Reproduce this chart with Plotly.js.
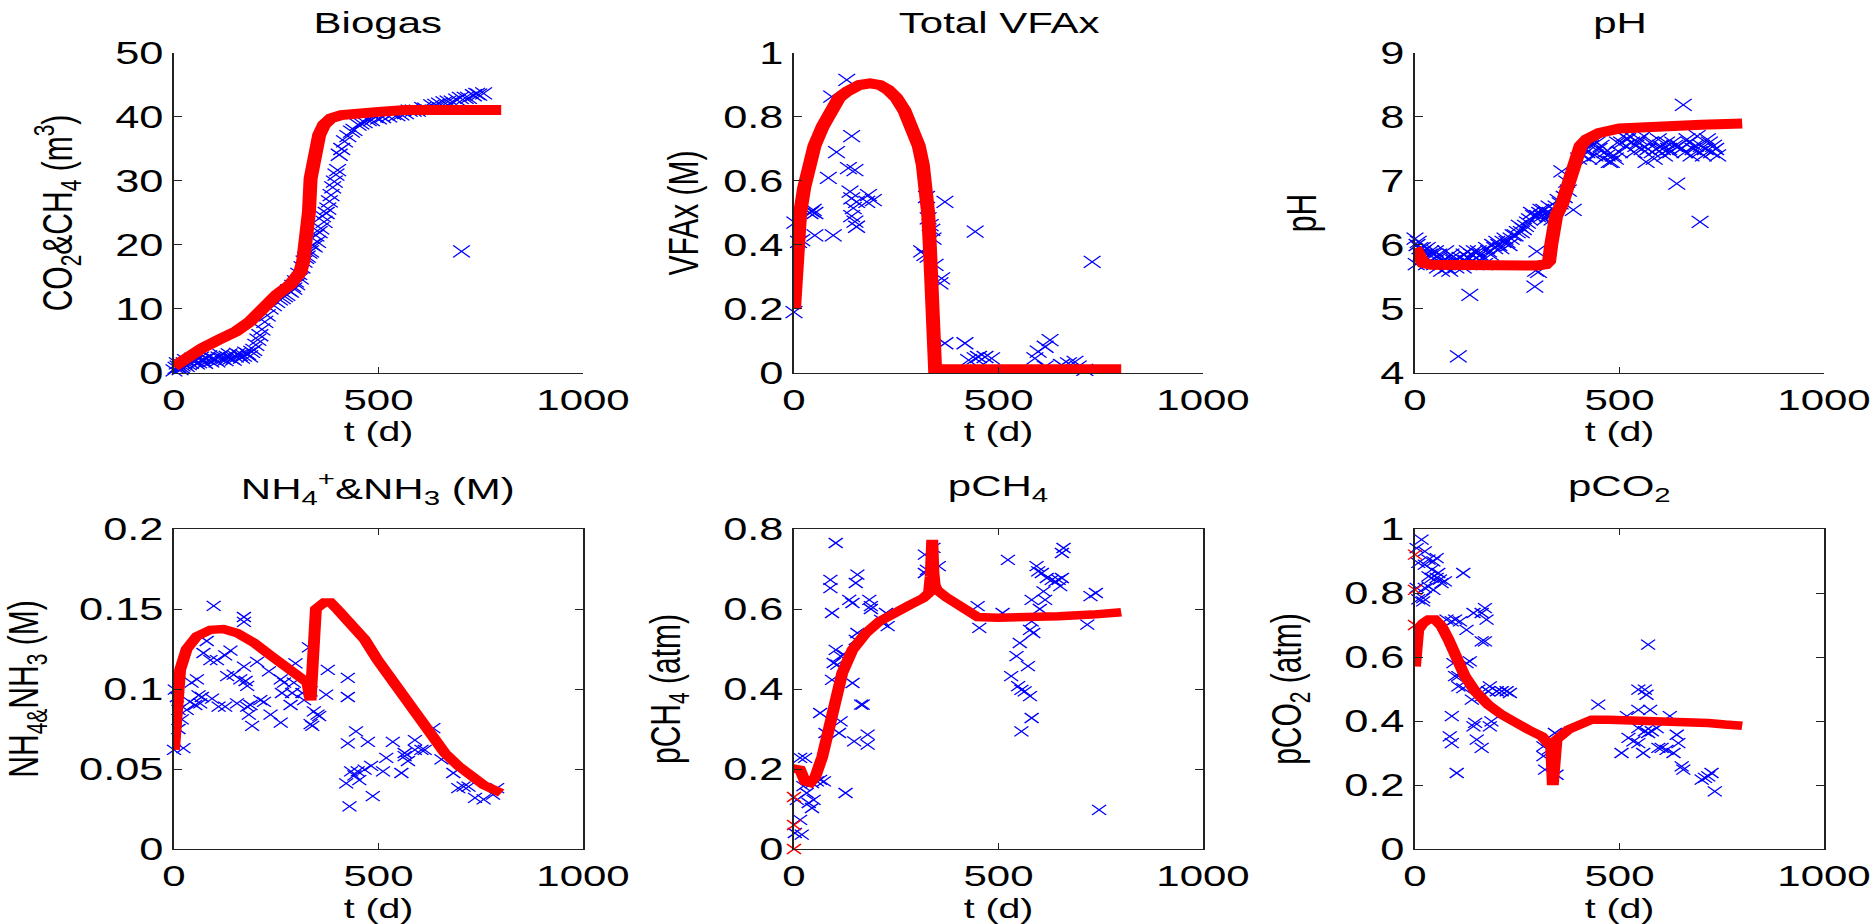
<!DOCTYPE html>
<html>
<head>
<meta charset="utf-8">
<script src="https://cdn.plot.ly/plotly-3.0.1.min.js"></script>
<style>
html,body{margin:0;padding:0;background:#fff;overflow:hidden;}
#wrap{width:1876px;height:924px;overflow:hidden;}
#chart{width:1340px;height:924px;transform:scaleX(1.4);transform-origin:0 0;}
</style>
</head>
<body>
<div id="wrap"><div id="chart"></div></div>
<script>
// ---------- Biogas ----------
const biogasModelT = [0,27,69,110,152,185,201,218,251,284,309,316,322,326,330,334,338,342,348,355,367,384,409,442,500,566,649,720,800];
const biogasModelV = [1.0,2.3,3.9,5.2,6.5,8.0,9.1,10.1,12.2,13.8,15.8,17.5,20.0,22.5,25.2,30.4,32.5,34.1,35.8,37.2,38.8,39.8,40.3,40.6,40.8,41.1,41.1,41.1,41.1];
const biogasDataT = [0,5,10,15,20,25,30,40,50,60,70,80,90,100,110,120,130,140,150,160,170,180,190,200,205,210,215,222,235,251,265,276,285,293,300,309,318,326,334,343,351,359,367,376,380,384,392,400,404,417,434,450,465,483,500,525,545,566,585,608,630,649,670,691,712,732,745,757,703,
  8,18,28,35,45,55,65,75,85,95,105,115,125,135,145,155,165,175,185,195,228,243,258,270,280,290,297,305,313,322,330,338,347,355,363,372,388,396,410,425,440,457,475,492,510,535,555,575,595,615,640,660,680,700,720,740];
const biogasDataV = [0.4,0.8,1.0,0.6,1.2,1.5,1.1,1.6,1.9,1.7,2.0,2.2,1.8,2.1,2.4,2.2,2.5,2.3,2.6,2.8,2.7,3.0,3.3,4.4,5.2,5.9,6.8,8.0,10.1,11.1,11.7,12.2,12.7,13.2,13.9,14.8,17.4,18.2,19.0,19.8,20.5,22.6,23.6,25.7,26.8,27.8,29.9,31.7,34.1,36.2,37.7,38.8,39.2,39.5,39.8,40.1,40.3,40.6,41.0,41.4,41.8,42.1,42.4,42.7,43.0,43.4,43.5,43.7,19.0,
  1.5,0.9,2.0,1.4,2.2,1.5,2.4,1.6,2.6,2.3,1.8,2.8,2.0,2.9,2.1,3.0,2.4,3.2,2.6,3.6,9.0,10.6,11.5,12.0,12.9,13.6,14.3,15.5,16.5,18.0,18.8,20.0,21.5,22.0,24.5,25.0,29.0,31.0,35.0,37.0,38.0,39.0,39.5,40.0,40.0,40.5,40.4,41.0,41.0,41.3,41.9,42.3,42.4,43.0,43.0,43.6];

// ---------- Total VFAx ----------
const vfaModelT = [0,3,6,10,15,25,35,50,70,90,110,130,160,186,210,230,250,270,290,305,315,323,328,332,335,337,338,345,800];
const vfaModelV = [0.2,0.3,0.38,0.45,0.5,0.58,0.64,0.71,0.77,0.82,0.86,0.88,0.9,0.905,0.9,0.885,0.86,0.82,0.77,0.71,0.65,0.58,0.5,0.4,0.3,0.15,0.02,0.012,0.012];
const vfaDataT = [0,2,11,19,39,43,47,51,51,84,92,96,104,129,133,137,141,141,141,145,149,149,153,153,178,182,194,312,320,324,328,328,333,337,340,345,357,361,369,369,418,427,443,443,451,467,483,589,597,614,614,626,654,671,687,695,711,729];
const vfaDataV = [0.19,0.47,0.41,0.415,0.5,0.505,0.51,0.5,0.43,0.61,0.864,0.43,0.69,0.916,0.64,0.567,0.74,0.546,0.49,0.515,0.634,0.473,0.535,0.457,0.535,0.556,0.54,0.38,0.369,0.55,0.364,0.483,0.462,0.447,0.42,0.338,0.28,0.296,0.535,0.093,0.093,0.04,0.046,0.442,0.05,0.05,0.046,0.046,0.067,0.082,0.02,0.103,0.025,0.03,0.035,0.02,0.01,0.347];

// ---------- pH ----------
const phModelT = [0,10,20,40,100,200,300,320,328,333,336,345,360,375,390,405,420,450,500,600,700,800];
const phModelV = [5.95,5.8,5.72,5.69,5.68,5.68,5.68,5.7,5.75,6.0,6.3,6.45,6.65,7.0,7.35,7.55,7.65,7.75,7.82,7.86,7.88,7.9];
const phDataT = [0,3,5,8,12,15,20,25,30,35,40,45,50,55,60,65,70,75,80,85,90,95,100,106,110,115,120,125,130,134,140,145,150,160,170,175,180,190,200,210,215,220,230,240,250,255,260,270,280,285,290,293,295,298,302,305,310,315,320,325,330,335,340,345,350,355,359,365,371,375,387,400,410,415,420,430,440,445,450,460,470,480,490,500,505,510,520,530,540,550,560,565,570,580,590,600,610,620,630,640,645,650,656,660,670,680,690,697,700,705,710,720,725,730,740,
  425,435,455,465,475,485,495,515,525,535,545,555,575,585,595,605,615,625,635,665,675,685,695,715,735,
  18,28,38,48,58,68,78,88,98,118,128,138,148,155,165,185,195,205,225,235,245,265,275,300,308,318,328];
const phDataV = [6.1,5.7,6.0,6.05,5.95,5.85,5.9,5.8,5.95,5.85,5.75,5.85,5.9,5.65,5.8,5.6,5.75,5.9,5.7,5.6,5.8,5.75,5.65,4.26,5.8,5.7,5.85,5.75,5.8,5.22,5.75,5.9,5.8,5.85,5.7,5.95,5.9,6.0,6.05,5.95,6.05,6.1,6.0,6.15,6.2,6.3,6.2,6.3,6.4,6.5,6.45,5.35,5.6,5.9,5.58,6.5,6.45,6.55,6.5,6.45,6.5,6.4,6.55,6.6,6.7,6.65,7.15,6.75,6.99,6.85,6.55,7.35,7.4,7.5,7.45,7.55,7.4,7.6,7.5,7.35,7.4,7.3,7.35,7.45,7.6,7.7,7.65,7.6,7.55,7.65,7.7,7.3,7.5,7.45,7.5,7.55,7.4,7.5,7.6,6.96,7.55,7.5,8.19,7.45,7.6,7.5,7.7,6.36,7.55,7.4,7.5,7.6,7.45,7.55,7.4,
  7.35,7.6,7.55,7.45,7.3,7.4,7.6,7.55,7.7,7.45,7.6,7.5,7.6,7.35,7.65,7.5,7.6,7.45,7.55,7.65,7.4,7.55,7.45,7.65,7.5,
  5.95,5.7,5.9,5.7,5.85,5.75,5.65,5.85,5.7,5.65,5.9,5.85,5.7,5.9,5.8,5.85,5.95,6.0,6.05,6.1,6.15,6.25,6.35,6.45,6.55,6.4,6.6];

// ---------- NH4+ & NH3 ----------
const nhModelT = [0,5,8,15,31,56,89,121,154,195,236,277,310,326,334,339,347,367,383,400,433,466,498,531,564,597,630,662,695,728,757,800];
const nhModelV = [0.062,0.079,0.0996,0.112,0.125,0.133,0.137,0.1375,0.135,0.129,0.121,0.114,0.108,0.104,0.093,0.12,0.15,0.154,0.154,0.1496,0.141,0.131,0.118,0.106,0.093,0.081,0.07,0.06,0.052,0.045,0.04,0.035];
const nhDataT = [0,2,7,11,11,23,19,31,39,43,56,60,68,64,52,72,80,97,89,105,93,109,125,125,138,130,146,154,162,171,171,175,179,171,179,187,191,183,203,211,220,232,236,261,261,269,264,285,289,293,297,314,318,330,334,334,338,342,351,355,372,376,425,425,445,425,474,421,433,441,453,449,466,482,486,429,511,519,535,556,564,564,572,589,589,605,613,634,654,683,695,708,720,736,757,780,790];
const nhDataV = [0.062,0.0996,0.095,0.087,0.075,0.063,0.081,0.087,0.092,0.104,0.106,0.096,0.095,0.091,0.09,0.1225,0.13,0.152,0.118,0.118,0.094,0.089,0.089,0.121,0.124,0.108,0.109,0.091,0.106,0.145,0.142,0.105,0.102,0.114,0.089,0.09,0.077,0.084,0.117,0.093,0.092,0.111,0.084,0.079,0.106,0.104,0.0975,0.09,0.0975,0.104,0.116,0.0975,0.093,0.126,0.0985,0.078,0.077,0.086,0.084,0.083,0.0965,0.112,0.107,0.095,0.0735,0.066,0.067,0.041,0.0485,0.046,0.043,0.0485,0.0496,0.052,0.033,0.0267,0.0485,0.057,0.067,0.0475,0.06,0.058,0.055,0.068,0.062,0.062,0.062,0.0756,0.056,0.0475,0.038,0.039,0.039,0.032,0.031,0.034,0.038];

// ---------- pCH4 ----------
const pch4ModelT = [0,5,15,27,40,52,69,85,102,118,143,176,209,242,283,316,330,334,338,341,344,349,374,399,424,449,498,564,647,729,800];
const pch4ModelV = [0.19,0.2,0.198,0.169,0.165,0.18,0.23,0.3,0.373,0.44,0.498,0.54,0.569,0.59,0.61,0.627,0.64,0.68,0.773,0.69,0.66,0.648,0.628,0.61,0.594,0.58,0.578,0.578,0.582,0.586,0.592];
const pch4StartT = [0,0,0];
const pch4StartV = [0.0,0.06,0.13];
const pch4DataT = [2,15,19,7,15,27,23,31,36,44,48,44,56,64,73,64,77,89,89,102,93,93,97,106,114,102,114,110,122,135,143,147,151,155,155,151,164,168,180,180,184,188,188,213,217,225,229,126,143,320,320,325,341,354,449,453,523,510,531,544,552,548,556,564,577,572,581,556,581,577,585,581,593,597,606,601,610,618,630,639,647,655,659,655,651,614,717,725,738,746];
const pch4DataV = [0.04,0.073,0.036,0.123,0.228,0.228,0.157,0.14,0.115,0.1025,0.123,0.165,0.169,0.173,0.169,0.34,0.29,0.652,0.673,0.765,0.59,0.423,0.465,0.461,0.482,0.498,0.319,0.29,0.486,0.623,0.615,0.269,0.665,0.686,0.54,0.523,0.361,0.361,0.286,0.261,0.623,0.6,0.607,0.573,0.565,0.59,0.557,0.14,0.415,0.736,0.69,0.698,0.753,0.707,0.607,0.553,0.723,0.59,0.432,0.482,0.515,0.407,0.398,0.394,0.382,0.457,0.3275,0.294,0.569,0.548,0.54,0.623,0.707,0.694,0.69,0.6,0.644,0.6775,0.673,0.669,0.673,0.6775,0.7525,0.74,0.657,0.623,0.561,0.632,0.64,0.098];

// ---------- pCO2 ----------
const pco2ModelT = [0,1,3,8,20,33,49,65,82,98,122,147,179,212,245,277,310,326,333,337,341,346,375,408,432,473,554,636,717,758,800];
const pco2ModelV = [0.57,0.62,0.66,0.685,0.706,0.717,0.717,0.696,0.654,0.602,0.54,0.493,0.451,0.42,0.394,0.373,0.352,0.336,0.32,0.2,0.3,0.342,0.373,0.394,0.404,0.404,0.402,0.399,0.394,0.389,0.385];
const pco2StartT = [0,0,0];
const pco2StartV = [0.92,0.81,0.70];
const pco2DataT = [4,16,24,8,4,8,20,24,33,45,53,41,33,41,53,61,65,73,45,33,24,57,20,77,90,98,110,126,118,143,163,171,175,163,171,94,98,106,106,118,126,134,90,85,90,102,139,143,147,151,163,155,163,179,183,187,200,212,224,232,183,314,314,318,326,342,346,448,505,518,522,534,546,546,546,546,558,562,566,570,575,562,570,579,591,595,603,623,615,632,640,644,652,656,701,709,717,725,733];
const pco2DataV = [0.94,0.967,0.93,0.894,0.816,0.78,0.774,0.889,0.904,0.899,0.909,0.873,0.852,0.847,0.847,0.842,0.831,0.836,0.81,0.82,0.816,0.8625,0.784,0.717,0.711,0.717,0.711,0.685,0.8625,0.7375,0.7375,0.753,0.717,0.649,0.649,0.581,0.54,0.54,0.508,0.503,0.581,0.586,0.415,0.352,0.331,0.2375,0.467,0.383,0.394,0.342,0.316,0.498,0.477,0.493,0.383,0.399,0.493,0.493,0.493,0.4875,0.508,0.321,0.29,0.248,0.31,0.3625,0.232,0.451,0.3,0.415,0.347,0.336,0.331,0.435,0.498,0.378,0.3,0.498,0.482,0.6385,0.435,0.368,0.3625,0.368,0.378,0.316,0.316,0.415,0.31,0.3,0.357,0.331,0.258,0.248,0.217,0.222,0.227,0.2375,0.18];

// ---------- labels ----------
const panelTitles = ['Biogas','Total VFAx','pH','NH<sub>4</sub><sup>+</sup>&amp;NH<sub>3</sub> (M)','pCH<sub>4</sub>','pCO<sub>2</sub>'];
const yTitles = ['CO<sub>2</sub>&amp;CH<sub>4</sub> (m<sup>3</sup>)','VFAx (M)','pH','NH<sub>4&amp;</sub>NH<sub>3</sub> (M)','pCH<sub>4</sub> (atm)','pCO<sub>2</sub> (atm)'];
const xTitle = 't (d)';
const xTicks = [0,500,1000];
const yRanges = [[0,50],[0,1],[4,9],[0,0.2],[0,0.8],[0,1]];
const yDticks = [10,0.2,1,0.05,0.2,0.2];

// ---------- build ----------
const RED = '#ff0000', BLUE = '#0000ff';
// plot area: full width, height 924-60 (bottom margin 60 px)
const colDomains = [[0.09275,0.31077],[0.42324,0.64126],[0.75426,0.97228]];
const rowDomains = [[0.56829,0.93866],[0.01736,0.38773]];
const titleY = [0.97338,0.43519];
const yStandoffs = [21,8,36,22,21,21];
const xStandoffs = [2,8];
const FONT = 'Liberation Sans, Arial, Helvetica, sans-serif';

const models = [[biogasModelT,biogasModelV],[vfaModelT,vfaModelV],[phModelT,phModelV],[nhModelT,nhModelV],[pch4ModelT,pch4ModelV],[pco2ModelT,pco2ModelV]];
const datas = [[biogasDataT,biogasDataV],[vfaDataT,vfaDataV],[phDataT,phDataV],[nhDataT,nhDataV],[pch4DataT,pch4DataV],[pco2DataT,pco2DataV]];

const traces = [];
const layout = {
  width:1340, height:924,
  margin:{l:0,r:0,t:0,b:60},
  paper_bgcolor:'#fff', plot_bgcolor:'#fff',
  showlegend:false,
  font:{family:FONT, color:'#000', size:31},
  annotations:[]
};

for (let i=0;i<6;i++){
  const row = i<3?0:1, col = i%3;
  const sx = i===0?'':String(i+1);
  const xa = 'x'+sx, ya = 'y'+sx;
  const msize = row===0?12:10;
  traces.push({x:datas[i][0], y:datas[i][1], xaxis:xa, yaxis:ya, type:'scatter', mode:'markers',
    cliponaxis:false, marker:{symbol:'x-thin', size:msize, line:{color:BLUE,width:1.1}, color:BLUE}});
  traces.push({x:models[i][0], y:models[i][1], xaxis:xa, yaxis:ya, type:'scatter', mode:'lines',
    cliponaxis:false, line:{color:RED,width:row===0?10:8.5}});
  const boxed = row===1;
  layout['xaxis'+sx] = {domain:colDomains[col], anchor:ya, range:[0,1000], tickvals:xTicks, ticktext:xTicks.map(String),
    ticks:'inside', ticklen:6, tickcolor:'#222', showline:true, linecolor:'#222', linewidth:1.3,
    mirror: boxed?'ticks':false, showgrid:false, zeroline:false,
    tickfont:{size:30}, title:{text:xTitle, font:{size:28}, standoff:xStandoffs[row]}};
  layout['yaxis'+sx] = {domain:rowDomains[row], anchor:xa, range:yRanges[i], dtick:yDticks[i], tick0:yRanges[i][0],
    ticks:'inside', ticklen:6, tickcolor:'#222', showline:true, linecolor:'#222', linewidth:1.3,
    mirror: boxed?'ticks':false, showgrid:false, zeroline:false,
    tickfont:{size:31}, title:{text:yTitles[i], font:{size:30}, standoff:yStandoffs[i]}};
  layout.annotations.push({text:panelTitles[i], xref:'paper', yref:'paper',
    x:(colDomains[col][0]+colDomains[col][1])/2, y:titleY[row],
    xanchor:'center', yanchor:'middle', showarrow:false, font:{size:30, family:FONT}});
}
traces.push({x:pch4StartT, y:pch4StartV, xaxis:'x5', yaxis:'y5', type:'scatter', mode:'markers', cliponaxis:false,
  marker:{symbol:'x-thin', size:10, line:{color:RED,width:1.2}}});
traces.push({x:pco2StartT, y:pco2StartV, xaxis:'x6', yaxis:'y6', type:'scatter', mode:'markers', cliponaxis:false,
  marker:{symbol:'x-thin', size:10, line:{color:RED,width:1.2}}});

Plotly.newPlot('chart', traces, layout, {staticPlot:true, displayModeBar:false});
</script>
</body>
</html>
